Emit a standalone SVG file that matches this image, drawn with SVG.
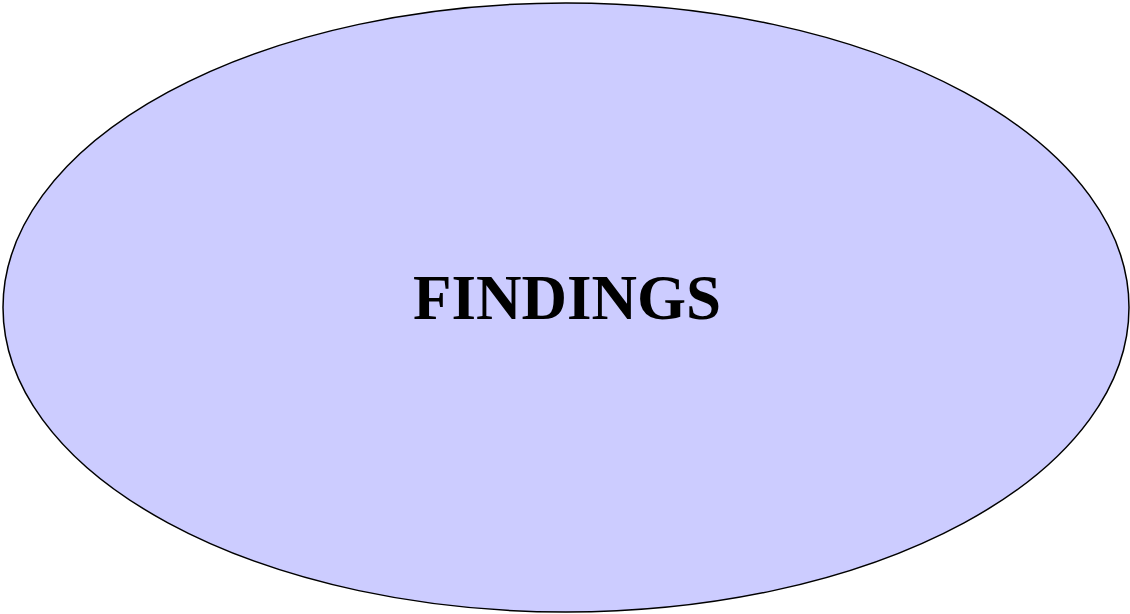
<svg xmlns="http://www.w3.org/2000/svg" width="1130" height="614" viewBox="0 0 1130 614">
<style>
.node{fill:#ccccff;stroke:#000;stroke-width:1.5}
.label{font-family:"Liberation Serif",serif;font-weight:bold;font-size:63px;fill:#000;text-anchor:middle}
</style>
<rect width="1130" height="614" fill="#fff"/>
<g id="connectors"></g>
<g id="findings">
<ellipse class="node" cx="566" cy="307.5" rx="563" ry="304.5"/>
<text class="label" x="567" y="319">FINDINGS</text>
</g>
</svg>
